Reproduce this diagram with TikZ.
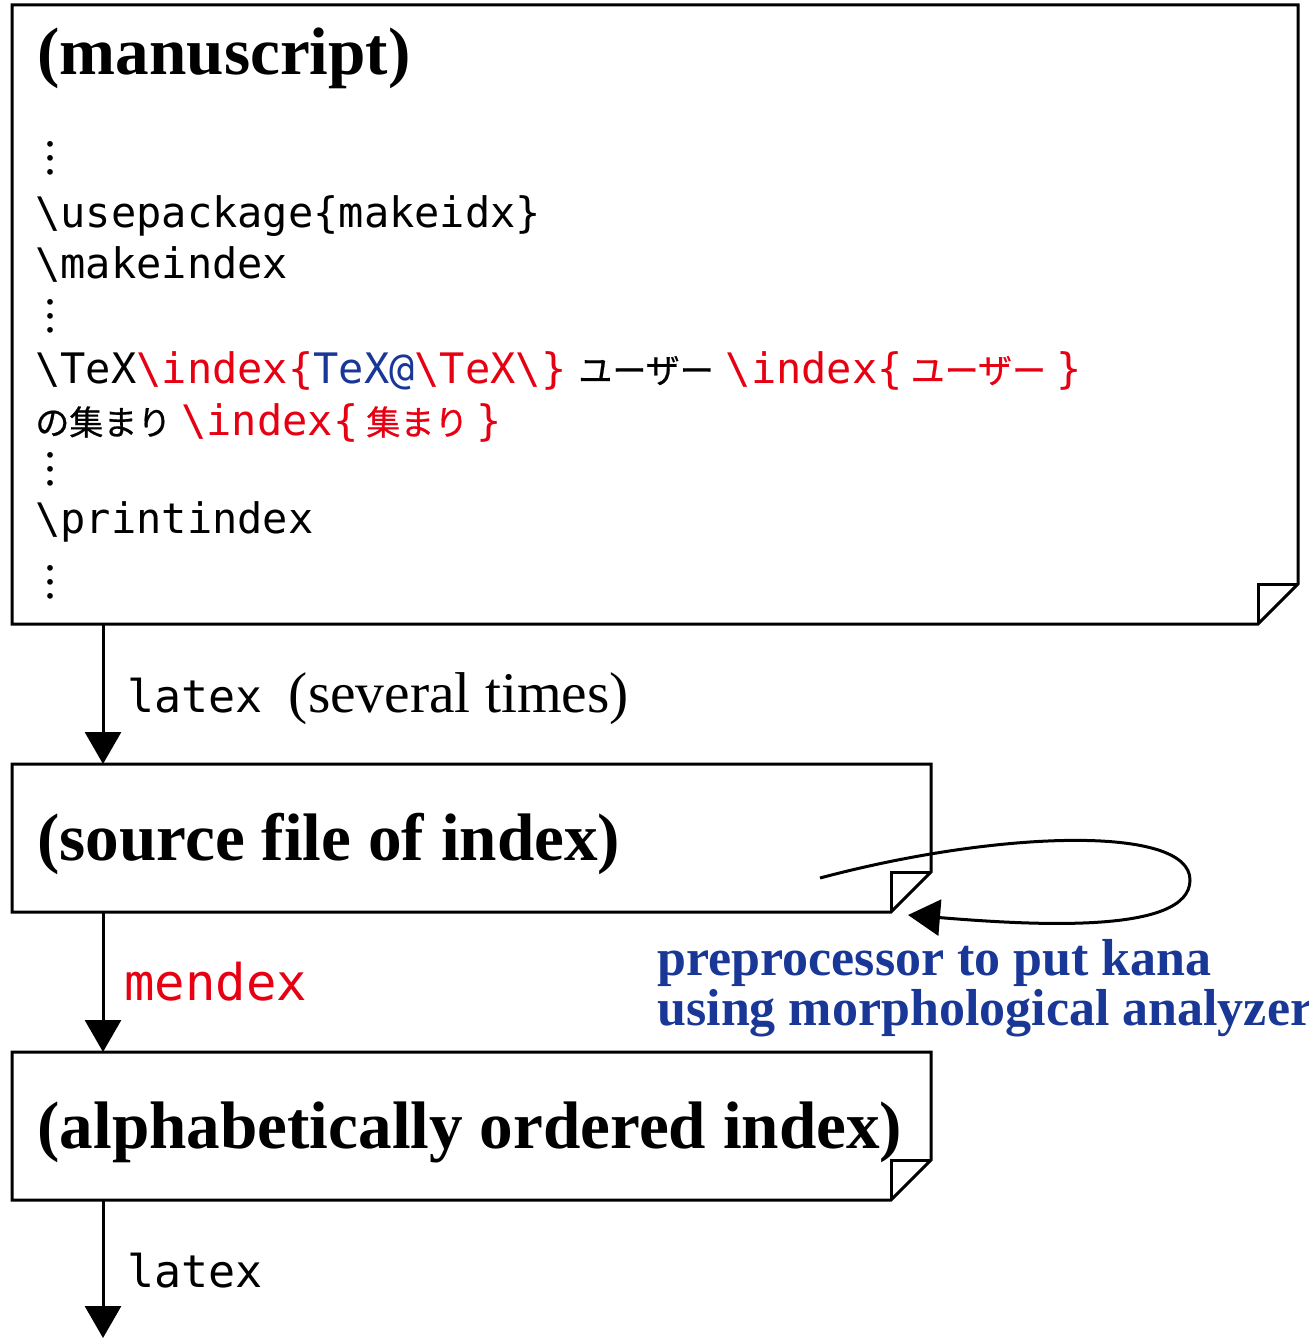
\documentclass[tikz,border=0pt]{standalone}
\usepackage{fontspec}
\setmainfont{Liberation Serif}
\newfontfamily\monof{DejaVu Sans Mono}
\newfontfamily\jpf[FakeBold=0.6]{Noto Sans CJK JP}
\usetikzlibrary{arrows.meta}
\definecolor{idxred}{RGB}{230,0,18}
\definecolor{idxblue}{RGB}{25,55,150}
\newcommand\myvdots{\vbox{\baselineskip=7pt\lineskiplimit=0pt\hbox{.}\hbox{.}\hbox{.}}}
\newcommand\bs{\textbackslash}
\newcommand\jp[1]{{\fontsize{17}{20}\selectfont\jpf #1}}
\begin{document}
\begin{tikzpicture}[x=0.5pt,y=-0.5pt,
  boxline/.style={line width=1.5pt, line join=miter},
  flow/.style={line width=1.5pt, -{Triangle[length=16pt,width=18pt]}},
  area/.style={inner sep=0pt, outer sep=0pt, draw=none},
  txt/.style={inner sep=0pt, anchor=base west},
  title/.style={txt, font=\fontsize{33.6}{40}\selectfont\bfseries},
  code/.style={txt, font=\fontsize{21}{26}\selectfont\monof},
  dots/.style={inner sep=0pt, font=\fontsize{24}{28}\selectfont},
  note/.style={txt, font=\fontsize{26}{30}\selectfont\bfseries, text=idxblue}]
\useasboundingbox (0,0) rectangle (1308,1338);

% boxes
\node[area, minimum width=643pt, minimum height=309.5pt] (ms) at (655,314.5) {};
\node[area, minimum width=459.5pt, minimum height=74pt] (src) at (471.5,838) {};
\node[area, minimum width=459.5pt, minimum height=74pt] (alp) at (471.5,1126) {};

\foreach \b in {ms,src,alp}{
  \draw[boxline] (\b.north west) -- (\b.north east) -- ([yshift=20pt]\b.south east)
     -- ([xshift=-20pt]\b.south east) -- (\b.south west) -- cycle;
  \draw[boxline] ([xshift=-20pt]\b.south east) -- ([xshift=-20pt,yshift=20pt]\b.south east)
     -- ([yshift=20pt]\b.south east);
}

% manuscript contents
\node[title] (t1) at (37,75) {(manuscript)};
\node[dots] (d1) at (50,158) {\myvdots};
\node[code] (c1) at (35,227) {\bs usepackage\{makeidx\}};
\node[code] (c2) at (35,278) {\bs makeindex};
\node[dots] (d2) at (50,316) {\myvdots};
\node[code] (c3) at (35,383) {\bs TeX\textcolor{idxred}{\bs index\{}\textcolor{idxblue}{TeX@}\textcolor{idxred}{\bs TeX\bs\}}\hspace{6pt}\jp{ユーザー}\hspace{6pt}\textcolor{idxred}{\bs index\{\hspace{4pt}\jp{ユーザー}\hspace{5pt}\}}};
\node[code] (c4) at (35,435) {\jp{の集まり}\hspace{5pt}\textcolor{idxred}{\bs index\{\hspace{4pt}\jp{集まり}\hspace{4pt}\}}};
\node[dots] (d3) at (50,469) {\myvdots};
\node[code] (c5) at (35,533) {\bs printindex};
\node[dots] (d4) at (50,582) {\myvdots};

% other boxes
\node[title] (t2) at (37,860) {(source file of index)};
\node[title] (t3) at (37,1148) {(alphabetically ordered index)};

% arrows
\coordinate (out) at (103,1338);
\draw[flow] ([xshift=45.5pt]ms.south west) -- ([xshift=45.5pt]src.north west);
\draw[flow] ([xshift=45.5pt]src.south west) -- ([xshift=45.5pt]alp.north west);
\draw[flow] ([xshift=45.5pt]alp.south west) -- (out);

\node[txt, font=\fontsize{28.75}{32}\selectfont] (l1) at (127,712) {{\fontsize{22.5}{26}\selectfont\monof latex}\hspace{13pt}(several times)};
\node[txt, font=\fontsize{25.3}{30}\selectfont\monof, text=idxred] (l2) at (124,1000) {mendex};
\node[txt, font=\fontsize{22.5}{26}\selectfont\monof] (l3) at (127,1287) {latex};

% loop
\coordinate (ls) at (820,878);
\coordinate (lt) at (908,915);
\draw[flow] (ls) .. controls (1000,830) and (1190,825) .. (1190,880)
   .. controls (1190,935) and (1030,925) .. (lt);
\node[note] (n1) at (657,975) {preprocessor to put kana};
\node[note] (n2) at (657,1025) {using morphological analyzer};
\end{tikzpicture}
\end{document}
